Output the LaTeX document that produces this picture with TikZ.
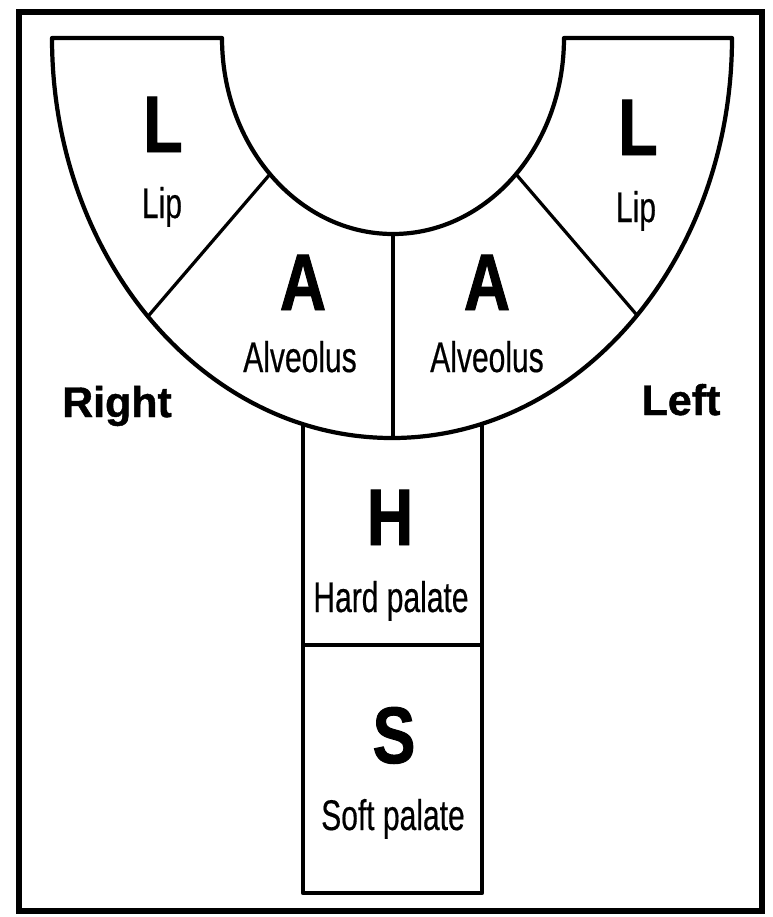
\documentclass[tikz,border=0pt]{standalone}
\usepackage{fontspec}
\setmainfont{Liberation Sans}
\newfontfamily\letterfont[FakeStretch=0.8,FakeBold=1.2]{Liberation Sans}
\newfontfamily\labelfont[FakeStretch=0.7,FakeBold=0.4]{Liberation Sans}
\newfontfamily\sidefont[FakeBold=1]{Liberation Sans}
\usetikzlibrary{calc}

\begin{document}
\begin{tikzpicture}[
    x=0.025cm, y=0.025cm,
    outline/.style={
        line width=3pt,
        line join=round
    },
    divider/.style={line width=2.3pt},
    letter/.style={
        anchor=base,
        font=\letterfont\bfseries\fontsize{57}{60}\selectfont
    },
    region/.style={
        anchor=base,
        font=\labelfont\fontsize{30.5}{34}\selectfont
    },
    side/.style={
        anchor=base,
        font=\sidefont\bfseries\fontsize{30.5}{34}\selectfont
    }
]

\useasboundingbox (0,0) rectangle (772,-917);

% Cornice
\draw[line width=4.3pt] (19,-12) rectangle (762,-911);

% Arcata
\coordinate (c) at (393,-38);
\draw[outline] (52,-38) arc[start angle=180, end angle=360, x radius=340, y radius=400]
    -- (564,-38) arc[start angle=0, end angle=-180, x radius=171, y radius=196] -- cycle;

% Divisioni
\coordinate (divR_in) at ($(c)+(224:171 and 196)$);
\coordinate (divR_out) at ($(c)+(224:340 and 400)$);
\coordinate (divM_in) at ($(c)+(270:171 and 196)$);
\coordinate (divM_out) at ($(c)+(270:340 and 400)$);
\coordinate (divL_in) at ($(c)+(316:171 and 196)$);
\coordinate (divL_out) at ($(c)+(316:340 and 400)$);
\draw[divider] (divR_in) -- (divR_out);
\draw[divider] (divM_in) -- (divM_out);
\draw[divider] (divL_in) -- (divL_out);

% Palato
\coordinate (palR_top) at (303,-424);
\coordinate (palL_top) at (482,-424);
\coordinate (palR_mid) at (303,-645);
\coordinate (palL_mid) at (482,-645);
\draw[outline] (palR_top) |- (482,-893) -- (palL_top);
\draw[outline] (palR_mid) -- (palL_mid);

% Etichette
\node[letter] (lipR) at (163,-152) {L};
\node[region] (lipR_txt) at (162,-218) {Lip};
\node[letter] (lipL) at (638,-155) {L};
\node[region] (lipL_txt) at (636,-222) {Lip};
\node[letter] (alvR) at (303,-310) {A};
\node[region] (alvR_txt) at (300,-372) {Alveolus};
\node[letter] (alvL) at (487,-310) {A};
\node[region] (alvL_txt) at (487,-372) {Alveolus};
\node[side] (right) at (117,-417) {Right};
\node[side] (left) at (681,-415) {Left};
\node[letter] (hard) at (390,-545) {H};
\node[region] (hard_txt) at (391,-612) {Hard palate};
\node[letter] (soft) at (394,-763) {S};
\node[region] (soft_txt) at (393,-830) {Soft palate};

\end{tikzpicture}
\end{document}
